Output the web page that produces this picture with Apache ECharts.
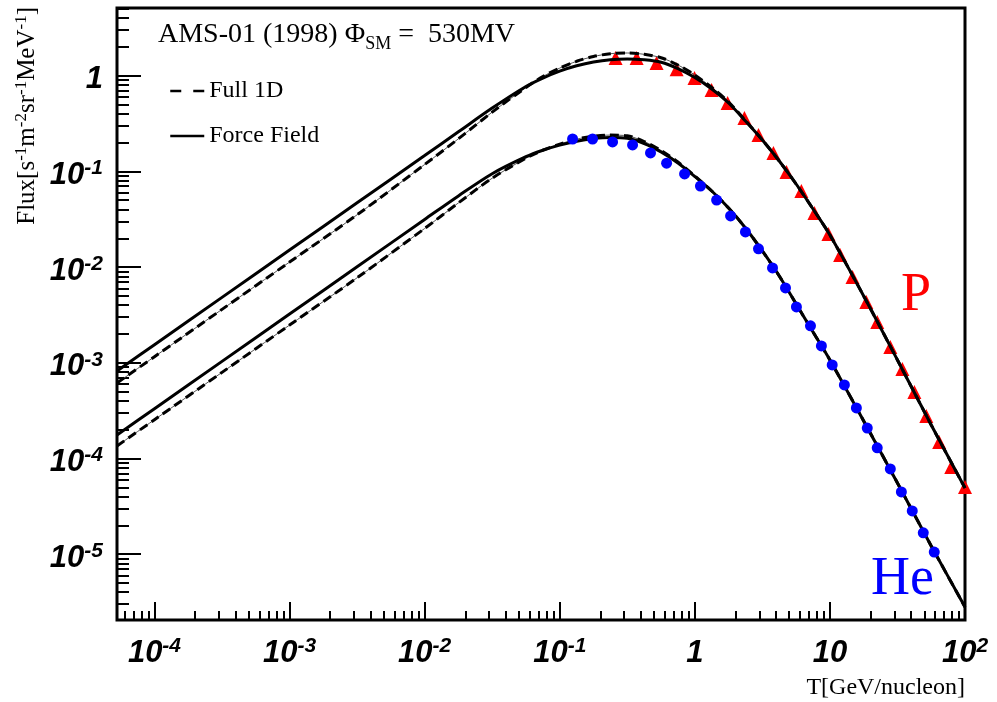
<!DOCTYPE html>
<html>
<head>
<meta charset="utf-8">
<script src="https://cdn.jsdelivr.net/npm/echarts@6/dist/echarts.min.js"></script>
<style>
  html, body { margin: 0; padding: 0; background: #fff; }
  #chart { width: 997px; height: 702px; }
</style>
</head>
<body>
<div id="chart"></div>
<script>
// ---------------- data (T in GeV/nucleon, flux in s^-1 m^-2 sr^-1 MeV^-1) ----------------
const pT = [0.259,0.371,0.521,0.733,0.995,1.33,1.75,2.33,2.96,3.82,4.77,6.15,7.68,9.75,11.9,14.7,18.6,22.4,28.0,34.4,42.2,51.7,64.4,79.1,100];
const pFlux = [1.53,1.53,1.36,1.17,0.946,0.708,0.518,0.361,0.240,0.156,0.0986,0.0624,0.0368,0.0222,0.0134,0.00788,0.00432,0.00267,0.00146,0.000861,0.000495,0.000278,0.000149,8.15e-5,5.04e-5];

const heT = [0.1245,0.175,0.246,0.346,0.470,0.618,0.840,1.10,1.45,1.84,2.37,2.96,3.76,4.69,5.65,7.18,8.65,10.4,12.8,15.7,18.9,22.4,28.0,33.8,40.7,49.1,59.2];
const heFlux = [0.218,0.218,0.203,0.189,0.156,0.122,0.0940,0.0703,0.0502,0.0342,0.0233,0.0155,0.00979,0.00605,0.00383,0.00243,0.00150,0.000949,0.000586,0.000337,0.000208,0.000129,7.77e-5,4.47e-5,2.83e-5,1.67e-5,1.05e-5];

const curveT = [5.28e-5,1e-4,3.162e-4,1e-3,3.162e-3,0.01,0.01778,0.03162,0.05623,0.07499,0.1,0.1334,0.1778,0.2371,0.3162,0.4217,0.5623,0.7499,1,1.334,1.778,2.371,3.162,4.217,5.623,7.499,10,17.78,31.62,56.23,100];
const pForceField = [8.21e-4,1.544e-3,4.825e-3,1.505e-2,4.696e-2,0.1466,0.2593,0.4585,0.7712,0.9450,1.117,1.269,1.391,1.470,1.495,1.466,1.384,1.189,0.9576,0.7261,0.5185,0.3362,0.2129,0.1284,0.07383,0.04046,0.02165,4.989e-3,1.070e-3,2.239e-4,4.916e-5];
const pFull1D = [6.152e-4,1.157e-3,3.614e-3,1.128e-2,3.519e-2,0.1181,0.2191,0.4165,0.7528,0.9798,1.2003,1.4146,1.5873,1.698,1.727,1.673,1.542,1.294,1.017,0.7528,0.5311,0.3403,0.2129,0.1284,0.07383,0.04046,0.02165,4.989e-3,1.070e-3,2.239e-4,4.916e-5];
const heForceField = [1.760e-4,3.311e-4,1.034e-3,3.228e-3,1.007e-2,3.144e-2,5.546e-2,9.462e-2,0.1424,0.1665,0.1883,0.2068,0.2196,0.2255,0.2218,0.1957,0.1595,0.1224,0.08846,0.06240,0.04144,0.02562,0.01473,8.072e-3,4.115e-3,2.098e-3,1.070e-3,2.465e-4,5.546e-5,1.218e-5,2.807e-6];
const heFull1D = [1.351e-4,2.540e-4,7.937e-4,2.477e-3,7.731e-3,2.531e-2,4.685e-2,8.490e-2,0.1373,0.1665,0.1929,0.2170,0.2332,0.2394,0.2355,0.2053,0.1653,0.1254,0.08951,0.06240,0.04144,0.02562,0.01473,8.072e-3,4.115e-3,2.098e-3,1.070e-3,2.465e-4,5.546e-5,1.218e-5,2.807e-6];

// axis ranges and tick decades
const xRange = [5.28e-5, 100];
const yRange = [2.05e-6, 5.1];
const xDecades = [-4, -3, -2, -1, 0, 1, 2];
const yDecades = [-5, -4, -3, -2, -1, 0];

// ---------------- helpers ----------------
const L = Math.log10;
const xMin = L(xRange[0]), xMax = L(xRange[1]);
const yMin = L(yRange[0]), yMax = L(yRange[1]);
function pairs(ts, fs) { return ts.map((t, i) => [L(t), L(fs[i])]); }
function minorTicks(lo, hi) {
  const out = [];
  for (let n = Math.floor(lo) - 1; n <= Math.ceil(hi); n++) {
    for (let k = 2; k <= 9; k++) {
      const v = n + L(k);
      if (v > lo && v < hi) out.push(v);
    }
  }
  return out;
}
const SANS = 'Liberation Sans, Arial, Helvetica, sans-serif';
const SERIF = 'Liberation Serif, Times New Roman, serif';
function powLabel(v) {
  const e = Math.round(v);
  if (e === 0) return '{a|1}';
  if (e === 1) return '{a|10}';
  return '{a|10}{s|' + e + '}';
}
const labelRich = {
  a: { fontFamily: SANS, fontStyle: 'italic', fontWeight: 'bold', fontSize: 31, lineHeight: 35, color: '#000' },
  s: { fontFamily: SANS, fontStyle: 'italic', fontWeight: 'bold', fontSize: 21, lineHeight: 14, verticalAlign: 'top', color: '#000' }
};

const gridBox = { left: 117, right: 32, top: 8, bottom: 82 };

const chart = echarts.init(document.getElementById('chart'), null, { renderer: 'canvas' });

const lineBase = { type: 'line', showSymbol: false, symbol: 'none', smooth: 0.3, animation: false, xAxisIndex: 0, yAxisIndex: 0 };

chart.setOption({
  animation: false,
  backgroundColor: '#fff',
  grid: [
    Object.assign({ show: true, borderColor: '#000', borderWidth: 3, backgroundColor: 'transparent' }, gridBox),
    Object.assign({ show: false }, gridBox)
  ],
  xAxis: [
    {
      type: 'value', gridIndex: 0, min: xMin, max: xMax, position: 'bottom',
      axisLine: { show: false, onZero: false },
      axisTick: { show: true, inside: true, length: 18, lineStyle: { color: '#000', width: 2 }, customValues: xDecades },
      axisLabel: { show: true, margin: 16, customValues: xDecades, formatter: powLabel, rich: labelRich },
      splitLine: { show: false }
    },
    {
      type: 'value', gridIndex: 1, min: xMin, max: xMax, position: 'bottom',
      axisLine: { show: false, onZero: false },
      axisTick: { show: true, inside: true, length: 9, lineStyle: { color: '#000', width: 2 }, customValues: minorTicks(xMin, xMax) },
      axisLabel: { show: false },
      splitLine: { show: false }
    }
  ],
  yAxis: [
    {
      type: 'value', gridIndex: 0, min: yMin, max: yMax, position: 'left',
      axisLine: { show: false, onZero: false },
      axisTick: { show: true, inside: true, length: 24, lineStyle: { color: '#000', width: 2 }, customValues: yDecades },
      axisLabel: { show: true, margin: 14, customValues: yDecades, formatter: powLabel, rich: labelRich, padding: [8, 0, 0, 0] },
      splitLine: { show: false }
    },
    {
      type: 'value', gridIndex: 1, min: yMin, max: yMax, position: 'left',
      axisLine: { show: false, onZero: false },
      axisTick: { show: true, inside: true, length: 12, lineStyle: { color: '#000', width: 2 }, customValues: minorTicks(yMin, yMax) },
      axisLabel: { show: false },
      splitLine: { show: false }
    }
  ],
  legend: {
    data: [
      { name: 'Full 1D', lineStyle: { type: [11, 12], width: 2.5, color: '#000' } },
      { name: 'Force Field', lineStyle: { type: 'solid', width: 2.5, color: '#000' } }
    ],
    orient: 'vertical', left: 164, top: 74,
    itemWidth: 34, itemHeight: 24, itemGap: 21,
    selectedMode: false,
    itemStyle: { color: 'rgba(0,0,0,0)', borderColor: 'rgba(0,0,0,0)', borderWidth: 0 },
    textStyle: { fontFamily: SERIF, fontSize: 24, color: '#000' }
  },
  series: [
    // proton data
    { type: 'scatter', name: 'P data', data: pairs(pT, pFlux), symbol: 'triangle', symbolSize: 14,
      itemStyle: { color: '#ff0000', opacity: 1 }, z: 1, animation: false },
    // proton curves
    Object.assign({}, lineBase, { name: 'P thin', data: pairs(curveT, pFull1D), itemStyle: { color: '#555' }, lineStyle: { color: '#555', width: 1 }, z: 2 }),
    Object.assign({}, lineBase, { name: 'Full 1D', data: pairs(curveT, pFull1D), itemStyle: { color: '#000' }, lineStyle: { color: '#000', width: 3, type: [9, 5] }, z: 3 }),
    Object.assign({}, lineBase, { name: 'Force Field', data: pairs(curveT, pForceField), itemStyle: { color: '#000' }, lineStyle: { color: '#000', width: 3, type: 'solid' }, z: 3 }),
    // helium curves
    Object.assign({}, lineBase, { name: 'He thin', data: pairs(curveT, heFull1D), itemStyle: { color: '#555' }, lineStyle: { color: '#555', width: 1 }, z: 2 }),
    Object.assign({}, lineBase, { name: 'Full 1D', data: pairs(curveT, heFull1D), itemStyle: { color: '#000' }, lineStyle: { color: '#000', width: 3, type: [9, 5] }, z: 3 }),
    Object.assign({}, lineBase, { name: 'Force Field', data: pairs(curveT, heForceField), itemStyle: { color: '#000' }, lineStyle: { color: '#000', width: 3, type: 'solid' }, z: 3 }),
    // helium data
    { type: 'scatter', name: 'He data', data: pairs(heT, heFlux), symbol: 'circle', symbolSize: 11,
      itemStyle: { color: '#0000ff', opacity: 1 }, z: 4, animation: false }
  ],
  graphic: [
    {
      type: 'text', x: 158, y: 17, z: 10,
      style: {
        text: '{t|AMS-01 (1998) Φ}{sub|SM}{t| =  530MV}',
        verticalAlign: 'top', align: 'left',
        rich: {
          t: { fontFamily: SERIF, fontSize: 28, lineHeight: 36, fill: '#000' },
          sub: { fontFamily: SERIF, fontSize: 18, lineHeight: 16, verticalAlign: 'bottom', fill: '#000' }
        }
      }
    },
    {
      type: 'text', x: 27, y: 7, rotation: Math.PI / 2, z: 10,
      style: {
        text: '{m|Flux[s}{u|-1}{m|m}{u|-2}{m|sr}{u|-1}{m|MeV}{u|-1}{m|]}',
        align: 'right', verticalAlign: 'middle',
        rich: {
          m: { fontFamily: SERIF, fontSize: 25, lineHeight: 28, fill: '#000' },
          u: { fontFamily: SERIF, fontSize: 17, lineHeight: 12, verticalAlign: 'top', fill: '#000' }
        }
      }
    },
    {
      type: 'text', x: 965, y: 688, z: 10,
      style: { text: 'T[GeV/nucleon]', align: 'right', verticalAlign: 'middle', fontFamily: SERIF, fontSize: 24, fill: '#000' }
    },
    {
      type: 'text', x: 901, y: 296, z: 10,
      style: { text: 'P', align: 'left', verticalAlign: 'middle', fontFamily: SERIF, fontSize: 54, fill: '#ff0000' }
    },
    {
      type: 'text', x: 871, y: 580, z: 10,
      style: { text: 'He', align: 'left', verticalAlign: 'middle', fontFamily: SERIF, fontSize: 54, fill: '#0000ff' }
    }
  ]
});
</script>
</body>
</html>
